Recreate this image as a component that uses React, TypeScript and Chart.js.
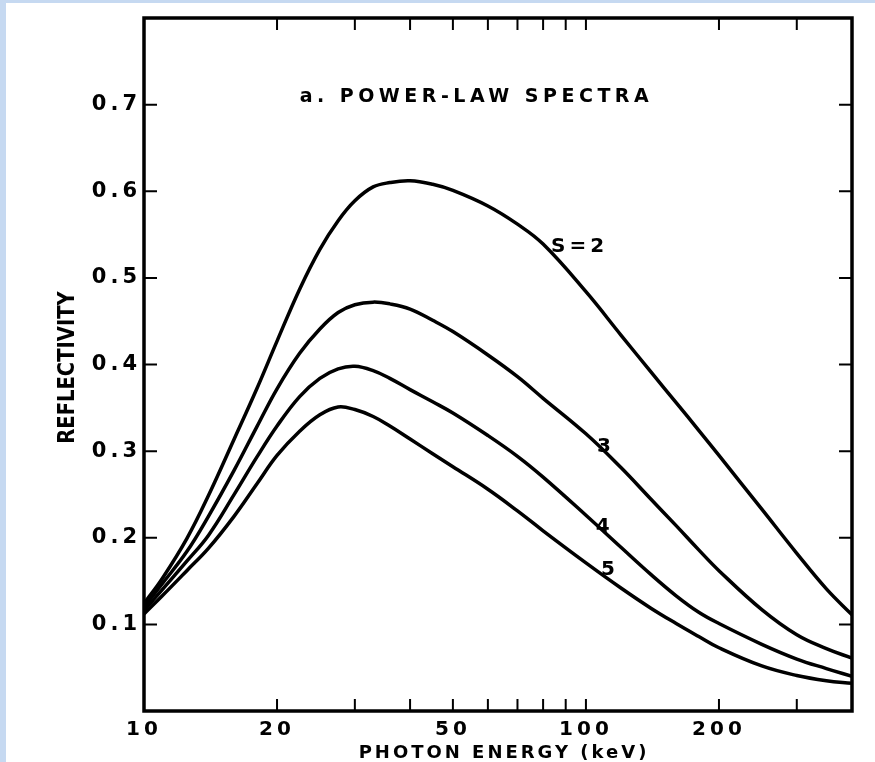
import React, { useEffect, useRef } from 'react';
import { Chart, registerables } from 'chart.js';

Chart.register(...registerables);

// ---- data ----
const ENERGY_KEV = [10, 11, 12.5, 14, 16, 18, 20, 22.5, 25, 27.5, 30, 33, 36, 40, 45, 50, 60, 70, 80, 100, 120, 140, 160, 180, 200, 250, 300, 350, 400];

const REFLECTIVITY_S2 = [0.124, 0.153, 0.199, 0.249, 0.314, 0.372, 0.427, 0.487, 0.533, 0.566, 0.589, 0.605, 0.610, 0.612, 0.608, 0.601, 0.583, 0.562, 0.539, 0.484, 0.434, 0.392, 0.356, 0.324, 0.295, 0.233, 0.182, 0.141, 0.111];
const REFLECTIVITY_S3 = [0.120, 0.147, 0.184, 0.225, 0.278, 0.328, 0.372, 0.413, 0.441, 0.460, 0.469, 0.472, 0.470, 0.464, 0.451, 0.438, 0.411, 0.386, 0.361, 0.320, 0.281, 0.245, 0.214, 0.186, 0.162, 0.117, 0.088, 0.072, 0.061];
const REFLECTIVITY_S4 = [0.116, 0.140, 0.173, 0.203, 0.250, 0.293, 0.329, 0.363, 0.384, 0.395, 0.398, 0.393, 0.384, 0.371, 0.357, 0.344, 0.318, 0.294, 0.270, 0.226, 0.189, 0.158, 0.133, 0.114, 0.101, 0.077, 0.060, 0.049, 0.040];
const REFLECTIVITY_S5 = [0.112, 0.133, 0.162, 0.188, 0.225, 0.262, 0.295, 0.323, 0.342, 0.351, 0.348, 0.340, 0.329, 0.314, 0.297, 0.282, 0.256, 0.231, 0.208, 0.171, 0.142, 0.119, 0.101, 0.086, 0.073, 0.052, 0.041, 0.035, 0.032];

const SERIES = [REFLECTIVITY_S2, REFLECTIVITY_S3, REFLECTIVITY_S4, REFLECTIVITY_S5];
const SERIES_LABELS = ['S=2', '3', '4', '5'];
// where each curve label sits (energy keV, reflectivity)
const CURVE_LABEL_ENERGY = [83.4, 105.9, 105.3, 108.1];
const CURVE_LABEL_REFL = [0.53, 0.299, 0.2065, 0.157];

const X_TICKS = [10, 20, 30, 40, 50, 60, 70, 80, 90, 100, 200, 300, 400];
const X_TICK_LABELS = [10, 20, 50, 100, 200];
const Y_TICKS = [0, 0.1, 0.2, 0.3, 0.4, 0.5, 0.6, 0.7, 0.8];
const Y_TICK_LABELS = [0.1, 0.2, 0.3, 0.4, 0.5, 0.6, 0.7];

const PANEL_TITLE = 'a. POWER-LAW SPECTRA';
const PANEL_TITLE_ENERGY = 22.5;
const PANEL_TITLE_REFL = 0.7027;
const X_TITLE = 'PHOTON ENERGY (keV)';
const Y_TITLE = 'REFLECTIVITY';

const FONT = '"DejaVu Sans", "Liberation Sans", sans-serif';

const framePlugin = {
  id: 'frame',
  beforeDraw(chart: any) {
    (chart.ctx as any).letterSpacing = '4px';
  },
  afterDraw(chart: any) {
    const ctx = chart.ctx as any;
    const { left, right, top, bottom } = chart.chartArea;
    const xs = chart.scales.x;
    const ys = chart.scales.y;
    ctx.save();
    ctx.strokeStyle = '#000';
    ctx.lineWidth = 2;
    ctx.beginPath();
    xs.ticks.forEach((t: any) => {
      const px = xs.getPixelForValue(t.value);
      ctx.moveTo(px, bottom);
      ctx.lineTo(px, bottom - 12);
      ctx.moveTo(px, top);
      ctx.lineTo(px, top + 12);
    });
    ys.ticks.forEach((t: any) => {
      const py = ys.getPixelForValue(t.value);
      ctx.moveTo(left, py);
      ctx.lineTo(left + 13, py);
      ctx.moveTo(right, py);
      ctx.lineTo(right - 13, py);
    });
    ctx.stroke();
    ctx.lineWidth = 3.5;
    ctx.strokeRect(left, top, right - left, bottom - top);

    ctx.fillStyle = '#000';
    ctx.textBaseline = 'alphabetic';

    // x title
    ctx.letterSpacing = '3px';
    ctx.font = `bold 18px ${FONT}`;
    ctx.textAlign = 'center';
    ctx.fillText(X_TITLE, (left + right) / 2 + 6, 758);

    // y title (slightly condensed)
    ctx.save();
    ctx.letterSpacing = '0px';
    ctx.font = `bold 23px ${FONT}`;
    ctx.translate(74, (top + bottom) / 2 + 3);
    ctx.rotate(-Math.PI / 2);
    ctx.scale(0.85, 1);
    ctx.textAlign = 'center';
    ctx.fillText(Y_TITLE, 0, 0);
    ctx.restore();

    // panel title
    ctx.letterSpacing = '4.5px';
    ctx.font = `bold 19px ${FONT}`;
    ctx.textAlign = 'left';
    ctx.fillText(PANEL_TITLE, xs.getPixelForValue(PANEL_TITLE_ENERGY), ys.getPixelForValue(PANEL_TITLE_REFL));

    // curve labels
    ctx.font = `bold 20px ${FONT}`;
    SERIES_LABELS.forEach((lab, i) => {
      ctx.letterSpacing = i === 0 ? '4px' : '0px';
      ctx.fillText(lab, xs.getPixelForValue(CURVE_LABEL_ENERGY[i]), ys.getPixelForValue(CURVE_LABEL_REFL[i]));
    });
    ctx.restore();
  },
};

export default function App() {
  const ref = useRef<HTMLCanvasElement | null>(null);

  useEffect(() => {
    if (!ref.current) return;
    const chart = new Chart(ref.current, {
      type: 'line',
      data: {
        datasets: SERIES.map((vals, i) => ({
          label: SERIES_LABELS[i],
          data: ENERGY_KEV.map((e, j) => ({ x: e, y: vals[j] })),
          borderColor: '#000',
          borderWidth: 3.5,
          pointRadius: 0,
          fill: false,
          tension: 0.4,
        })),
      },
      options: {
        responsive: false,
        animation: false,
        events: [],
        layout: { padding: { left: 0, top: 18, right: 23, bottom: 0 } },
        plugins: { legend: { display: false }, tooltip: { enabled: false } },
        scales: {
          x: {
            type: 'logarithmic',
            min: 10,
            max: 400,
            grid: { display: false, drawTicks: false },
            border: { display: false },
            afterFit: (s: any) => { s.height = 51; },
            afterBuildTicks: (s: any) => { s.ticks = X_TICKS.map((v) => ({ value: v })); },
            ticks: {
              autoSkip: false,
              maxRotation: 0,
              padding: 7,
              color: '#000',
              font: { family: FONT, size: 20, weight: 'bold' },
              callback: (v: any) => (X_TICK_LABELS.includes(Number(v)) ? String(v) : ''),
            },
          },
          y: {
            type: 'linear',
            min: 0,
            max: 0.8,
            grid: { display: false, drawTicks: false },
            border: { display: false },
            afterFit: (s: any) => { s.width = 144; },
            afterBuildTicks: (s: any) => { s.ticks = Y_TICKS.map((v) => ({ value: v })); },
            ticks: {
              autoSkip: false,
              padding: 3,
              color: '#000',
              font: { family: FONT, size: 21, weight: 'bold' },
              callback: (v: any) => (Y_TICK_LABELS.some((l) => Math.abs(l - Number(v)) < 1e-9) ? Number(v).toFixed(1) : ''),
            },
          },
        },
      },
      plugins: [framePlugin],
    } as any);
    return () => chart.destroy();
  }, []);

  return (
    <div style={{ position: 'fixed', left: 0, top: 0, width: 875, height: 762, background: '#c6d9f1', overflow: 'hidden' }}>
      <div style={{ position: 'absolute', left: 6, top: 3, right: 0, bottom: 0, background: '#ffffff' }} />
      <canvas ref={ref} width={875} height={762} style={{ position: 'absolute', left: 0, top: 0, width: 875, height: 762, display: 'block' }} />
    </div>
  );
}
